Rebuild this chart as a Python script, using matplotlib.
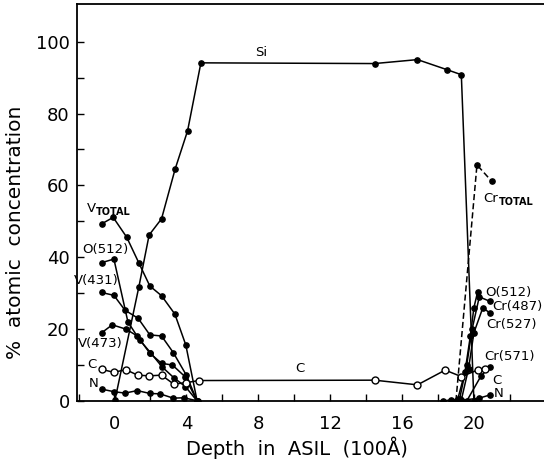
import matplotlib
matplotlib.use("Agg")
import matplotlib.pyplot as plt
from matplotlib.ticker import MultipleLocator, FixedLocator

# depth (100 A units) and % atomic concentration
si_x = [0.03, 1.36, 1.93, 2.62, 3.38, 4.07, 4.81, 14.47, 16.86, 18.5, 19.3, 20.0]
si_y = [0.3, 31.8, 46.2, 50.7, 64.6, 75.2, 94.1, 93.9, 95.0, 92.2, 90.8, 0.0]

vtot_x = [-0.71, -0.07, 0.68, 1.36, 1.97, 2.62, 3.36, 3.97, 4.6]
vtot_y = [49.3, 51.1, 45.6, 38.4, 32.0, 29.3, 24.2, 15.6, 0.0]

o512_x = [-0.71, -0.03, 0.75, 1.4, 2.0, 2.65, 3.3, 3.95, 4.6]
o512_y = [38.5, 39.5, 22.0, 17.0, 13.5, 9.5, 6.5, 4.0, 0.0]

v431_x = [-0.71, -0.03, 0.58, 1.32, 1.97, 2.62, 3.27, 4.0, 4.6]
v431_y = [30.2, 29.4, 25.3, 23.0, 18.4, 18.1, 13.5, 7.2, 0.0]

v473_x = [-0.71, -0.12, 0.64, 1.27, 1.97, 2.62, 3.23, 3.92, 4.6]
v473_y = [19.0, 21.2, 20.0, 18.1, 13.3, 10.5, 10.0, 6.8, 0.0]

c_x = [-0.71, -0.05, 0.64, 1.29, 1.93, 2.62, 3.3, 3.97, 4.71, 14.47, 16.86, 18.4, 19.3, 20.2, 20.6]
c_y = [8.8, 8.0, 8.7, 7.2, 7.0, 7.2, 4.7, 5.1, 5.7, 5.8, 4.5, 8.6, 6.8, 8.6, 8.8]

n_x = [-0.71, -0.03, 0.58, 1.27, 1.97, 2.53, 3.27, 3.86, 4.66]
n_y = [3.3, 2.6, 2.2, 2.9, 2.1, 2.0, 0.8, 0.9, 0.0]

crtot_x = [19.0, 20.17, 21.0]
crtot_y = [0.0, 65.7, 61.1]

o512r_x = [19.1, 19.5, 19.8, 20.0, 20.2]
o512r_y = [0.5, 8.0, 18.0, 26.0, 30.2]

cr487_x = [19.2, 19.6, 19.9, 20.3, 20.9]
cr487_y = [0.5, 10.0, 20.0, 29.0, 27.7]

cr527_x = [19.3, 19.7, 20.0, 20.5, 20.9]
cr527_y = [0.3, 9.0, 19.0, 26.0, 24.4]

cr571_x = [19.6, 20.4, 20.9]
cr571_y = [0.0, 7.0, 9.6]

nr_x = [18.3, 18.7, 19.3, 20.3, 20.9]
nr_y = [0.0, 0.3, 0.2, 0.8, 1.7]

fig = plt.figure(figsize=(5.44, 4.65), dpi=100)
ax = fig.add_axes([0.141, 0.1376, 0.859, 0.854])

dot = dict(color="k", lw=1.1, marker="o", ms=3.8, mfc="k", mec="k")
ring = dict(color="k", lw=1.1, marker="o", ms=5, mfc="white", mec="k", mew=1.0)

for xs, ys in [(si_x, si_y), (vtot_x, vtot_y), (o512_x, o512_y), (v431_x, v431_y),
               (v473_x, v473_y), (n_x, n_y), (o512r_x, o512r_y), (cr487_x, cr487_y),
               (cr527_x, cr527_y), (cr571_x, cr571_y), (nr_x, nr_y)]:
    ax.plot(xs, ys, **dot)
ax.plot(c_x, c_y, **ring)
ax.plot(crtot_x, crtot_y, ls=(0, (4, 2)), **dot)

lab = dict(fontsize=9.5, ha="center", va="center")
sub = dict(fontsize=7, fontweight="bold", ha="center", va="center")
ax.text(8.18, 97.0, "Si", **lab)
ax.text(-1.27, 53.7, "V", **lab)
ax.text(-0.05, 52.6, "TOTAL", **sub)
ax.text(-0.53, 42.3, "O(512)", **lab)
ax.text(-1.03, 33.5, "V(431)", **lab)
ax.text(-0.77, 15.9, "V(473)", **lab)
ax.text(-1.23, 10.3, "C", **lab)
ax.text(-1.18, 4.9, "N", **lab)
ax.text(10.3, 9.0, "C", **lab)
ax.text(20.95, 56.4, "Cr", **lab)
ax.text(22.35, 55.4, "TOTAL", **sub)
ax.text(21.9, 30.2, "O(512)", **lab)
ax.text(22.4, 26.3, "Cr(487)", **lab)
ax.text(22.1, 21.2, "Cr(527)", **lab)
ax.text(22.0, 12.3, "Cr(571)", **lab)
ax.text(21.3, 5.8, "C", **lab)
ax.text(21.4, 2.2, "N", **lab)

ax.set_xlim(-2.1, 23.9)
ax.set_ylim(0, 110.5)
ax.xaxis.set_major_locator(MultipleLocator(4))
ax.xaxis.set_minor_locator(MultipleLocator(2))
ax.yaxis.set_major_locator(MultipleLocator(20))
ax.yaxis.set_minor_locator(FixedLocator([10, 30, 50, 70, 90]))
ax.tick_params(which="both", direction="in", length=5, width=1.0, labelsize=13)
ax.tick_params(axis="x", which="both", top=False, pad=10)
ax.tick_params(axis="y", which="both", right=False, pad=5)
ax.spines["right"].set_visible(False)
for s in ["left", "bottom", "top"]:
    ax.spines[s].set_linewidth(1.3)

ax.set_xlabel("Depth  in  ASIL  (100Å)", fontsize=14)
ax.set_ylabel("%  atomic  concentration", fontsize=14.5)
ax.xaxis.set_label_coords(0.471, -0.09)
ax.yaxis.set_label_coords(-0.11, 0.426)

fig.savefig("out.png", dpi=100)
